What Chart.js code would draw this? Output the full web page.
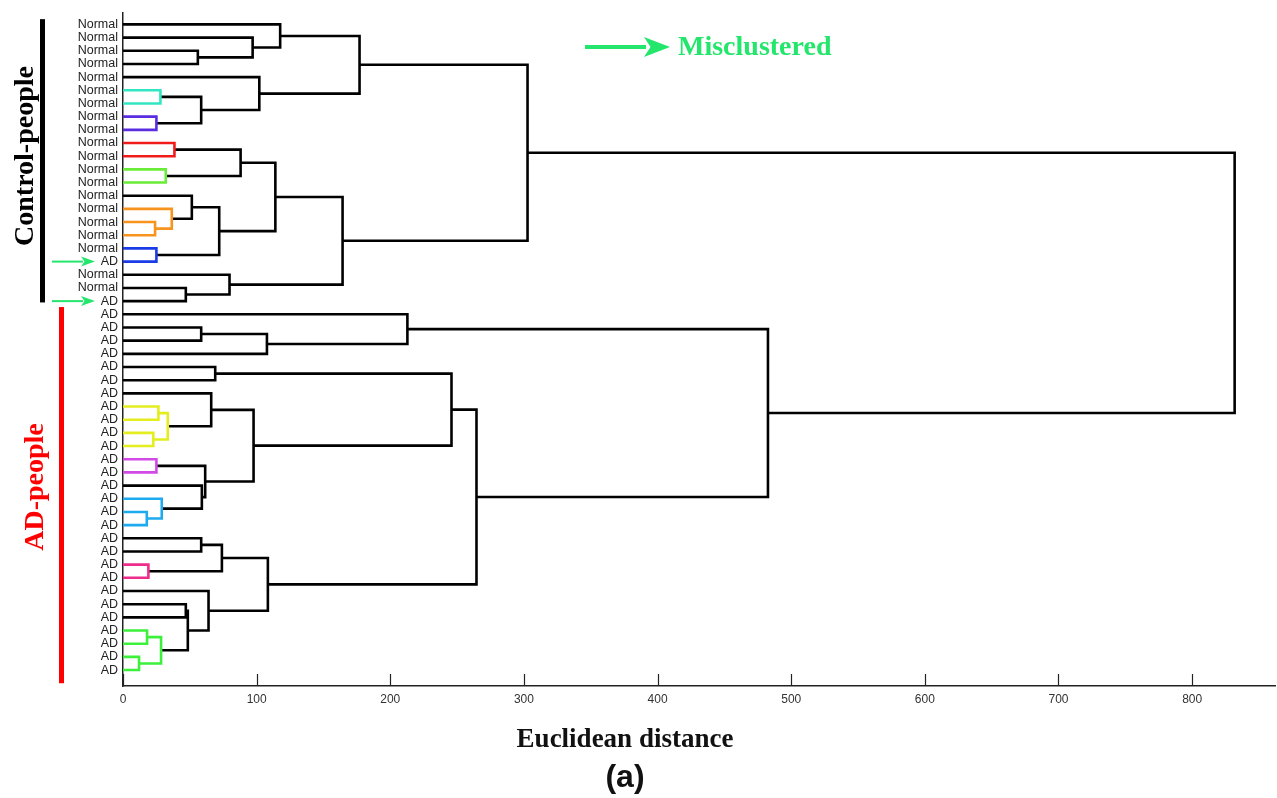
<!DOCTYPE html>
<html>
<head>
<meta charset="utf-8">
<script src="https://cdn.jsdelivr.net/npm/chart.js@4.4.1/dist/chart.umd.min.js"></script>
<style>
  html, body { margin: 0; padding: 0; background: #fff; }
  #wrap { width: 1277px; height: 798px; }
</style>
</head>
<body>
<div id="wrap"><canvas id="dendro"></canvas></div>
<script>
// Leaves, top to bottom
const leafLabels = [
    'Normal', 'Normal', 'Normal', 'Normal', 'Normal', 'Normal', 'Normal', 'Normal', 'Normal', 'Normal',
    'Normal', 'Normal', 'Normal', 'Normal', 'Normal', 'Normal', 'Normal', 'Normal', 'AD', 'Normal',
    'Normal', 'AD', 'AD', 'AD', 'AD', 'AD', 'AD', 'AD', 'AD', 'AD',
    'AD', 'AD', 'AD', 'AD', 'AD', 'AD', 'AD', 'AD', 'AD', 'AD',
    'AD', 'AD', 'AD', 'AD', 'AD', 'AD', 'AD', 'AD', 'AD', 'AD'
];

// Linkage: node ids 0..49 are leaves, 50+k is the k-th link
const linkLeft  = [2, 1, 0, 5, 7, 53, 4, 52, 9, 11, 58, 15, 14, 13, 17, 63, 60, 20, 19, 66, 57,
                   23, 71, 22, 26, 29, 31, 75, 28, 33, 37, 36, 35, 79, 78, 74, 39, 41, 86, 44, 46, 48, 90, 89, 43, 88, 85, 73, 70];
const linkRight = [3, 50, 51, 6, 8, 54, 55, 56, 10, 12, 59, 16, 61, 62, 18, 64, 65, 21, 67, 68, 69,
                   24, 25, 72, 27, 30, 32, 76, 77, 34, 38, 80, 81, 82, 83, 84, 40, 42, 87, 45, 47, 49, 91, 92, 93, 94, 95, 96, 97];
const linkHeight = [56, 97, 117.6, 28, 25, 58.5, 102, 177, 38.5, 32, 88, 24, 36.5, 51.5, 25, 72, 114, 47, 79.7, 164.3, 302.7,
                    58.5, 107.7, 212.8, 69, 26.5, 22.7, 33.5, 66, 25, 17.8, 29, 59, 61.5, 97.7, 245.8, 58.5, 19, 74, 47, 18, 12, 28.5, 48.5, 64, 108.4, 264.5, 482.6, 831.8];

const xTicks = [0, 100, 200, 300, 400, 500, 600, 700, 800];
const misclusteredLeaves = [18, 21];

// colour of the small coloured clusters, by link index
const linkColors = {
    3: '#33e6c2', 4: '#5a2ee0', 8: '#f01c1c', 9: '#6aec36', 11: '#f7941d', 12: '#f7941d', 14: '#1a3ce6',
    25: '#e4ee1e', 26: '#e4ee1e', 27: '#e4ee1e', 29: '#d24ae6', 30: '#1eaaf0', 31: '#1eaaf0',
    37: '#ee2c8c', 40: '#3cf03c', 41: '#3cf03c', 42: '#3cf03c'
};

const green = '#24e66c';

Chart.defaults.font.family = "'Liberation Sans', Arial, sans-serif";

// Build U-shaped links
const nLeaves = leafLabels.length;
const nodeY = [];
const nodeH = [];
for (let i = 0; i < nLeaves; i++) { nodeY[i] = i; nodeH[i] = 0; }

const datasets = [];
linkHeight.forEach(function(h, k) {
    const a = linkLeft[k], b = linkRight[k];
    datasets.push({
        data: [
            { x: nodeH[a], y: nodeY[a] },
            { x: h, y: nodeY[a] },
            { x: h, y: nodeY[b] },
            { x: nodeH[b], y: nodeY[b] }
        ],
        showLine: true,
        borderColor: linkColors[k] || '#000000',
        borderWidth: 2.6,
        borderJoinStyle: 'miter',
        pointRadius: 0,
        tension: 0
    });
    nodeY[nLeaves + k] = (nodeY[a] + nodeY[b]) / 2;
    nodeH[nLeaves + k] = h;
});

function arrow(ctx, x0, x1, yy, width, headLen, headHalf, color) {
    ctx.strokeStyle = color;
    ctx.fillStyle = color;
    ctx.lineWidth = width;
    ctx.beginPath();
    ctx.moveTo(x0, yy);
    ctx.lineTo(x1 - headLen + 2, yy);
    ctx.stroke();
    ctx.beginPath();
    ctx.moveTo(x1, yy);
    ctx.lineTo(x1 - headLen, yy - headHalf);
    ctx.lineTo(x1 - headLen * 0.75, yy);
    ctx.lineTo(x1 - headLen, yy + headHalf);
    ctx.closePath();
    ctx.fill();
}

const decorations = {
    id: 'decorations',
    afterDraw(chart) {
        const ctx = chart.ctx;
        const x = chart.scales.x, y = chart.scales.y;
        const area = chart.chartArea;
        ctx.save();

        // tick marks pointing into the plot
        ctx.strokeStyle = '#222';
        ctx.lineWidth = 1.2;
        xTicks.forEach(function(v) {
            const px = Math.round(x.getPixelForValue(v)) + 0.5;
            ctx.beginPath();
            ctx.moveTo(px, area.bottom);
            ctx.lineTo(px, area.bottom - 12);
            ctx.stroke();
        });

        // group bars
        ctx.fillStyle = '#000';
        ctx.fillRect(40, y.getPixelForValue(-0.4), 5, y.getPixelForValue(21.1) - y.getPixelForValue(-0.4));
        ctx.fillStyle = '#ff0000';
        ctx.fillRect(59, y.getPixelForValue(21.45), 5, y.getPixelForValue(50.0) - y.getPixelForValue(21.45));

        // group names
        ctx.font = "bold 28px 'Liberation Serif', 'Times New Roman', serif";
        ctx.textAlign = 'center';
        ctx.textBaseline = 'middle';
        ctx.save();
        ctx.translate(26, 156);
        ctx.rotate(-Math.PI / 2);
        ctx.fillStyle = '#000';
        ctx.fillText('Control-people', 0, 0);
        ctx.restore();
        ctx.save();
        ctx.translate(36, 487);
        ctx.rotate(-Math.PI / 2);
        ctx.fillStyle = '#ff0000';
        ctx.fillText('AD-people', 0, 0);
        ctx.restore();

        // misclustered arrows
        misclusteredLeaves.forEach(function(i) {
            arrow(ctx, 52, 95, y.getPixelForValue(i), 2, 14, 5, green);
        });

        // legend
        arrow(ctx, 585, 670, 47, 4, 26, 10, green);
        ctx.fillStyle = green;
        ctx.textAlign = 'left';
        ctx.font = "bold 28px 'Liberation Serif', 'Times New Roman', serif";
        ctx.fillText('Misclustered', 678, 48);

        // axis title and panel letter
        ctx.fillStyle = '#111';
        ctx.textAlign = 'center';
        ctx.font = "bold 27px 'Liberation Serif', 'Times New Roman', serif";
        ctx.fillText('Euclidean distance', 625, 740);
        ctx.font = "bold 32px 'Liberation Sans', Arial, sans-serif";
        ctx.fillText('(a)', 625, 778);

        ctx.restore();
    }
};

new Chart(document.getElementById('dendro'), {
    type: 'scatter',
    data: { datasets: datasets },
    options: {
        responsive: true,
        maintainAspectRatio: false,
        animation: false,
        layout: { padding: { top: 8, right: 2, left: 0, bottom: 0 } },
        plugins: {
            legend: { display: false },
            tooltip: { enabled: false }
        },
        scales: {
            x: {
                type: 'linear',
                min: 0,
                max: 862,
                afterBuildTicks: function(axis) {
                    axis.ticks = xTicks.map(function(v) { return { value: v }; });
                },
                afterFit: function(axis) { axis.height = 112; },
                grid: { display: false, drawTicks: false },
                border: { display: true, color: '#222', width: 1.5 },
                ticks: { color: '#333', font: { size: 12 }, padding: 6, maxRotation: 0 }
            },
            y: {
                type: 'linear',
                reverse: true,
                min: -0.905,
                max: 50.21,
                afterBuildTicks: function(axis) {
                    axis.ticks = leafLabels.map(function(l, i) { return { value: i }; });
                },
                afterFit: function(axis) { axis.width = 123; },
                grid: { display: false, drawTicks: false },
                border: { display: true, color: '#222', width: 1.5 },
                ticks: {
                    color: '#222',
                    font: { size: 12.5 },
                    padding: 5,
                    autoSkip: false,
                    callback: function(value, index) { return leafLabels[index]; }
                }
            }
        }
    },
    plugins: [decorations]
});
</script>
</body>
</html>
